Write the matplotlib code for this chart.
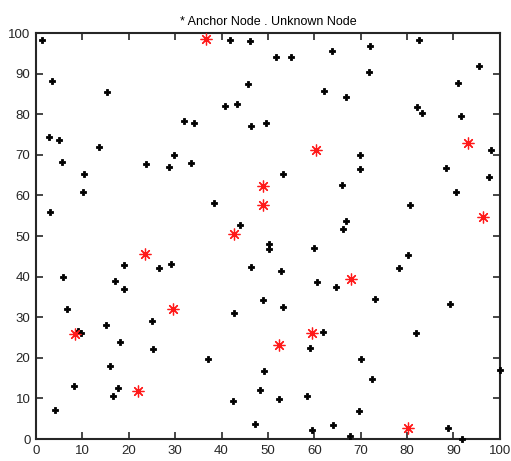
import matplotlib
matplotlib.use("Agg")
import matplotlib.pyplot as plt

# Anchor nodes (red asterisks)
anchor_x = [36.6, 60.4, 93.2, 49.0, 49.0, 96.4, 42.6, 23.4, 68.0, 8.4, 29.5, 59.6, 52.3, 22.0, 80.3]
anchor_y = [98.5, 71.1, 72.9, 62.2, 57.6, 54.7, 50.6, 45.6, 39.5, 25.9, 31.9, 26.1, 23.2, 11.8, 2.8]

# Unknown nodes (black dots)
unknown_x = [1.3, 3.5, 15.3, 41.9, 46.1, 51.8, 54.9, 63.9, 45.8, 62.1, 66.9, 40.7, 43.3,
             31.9, 34.0, 46.4, 49.5, 33.4, 2.8, 5.0, 13.5, 29.8, 5.6, 23.8,
             72.0, 82.6, 95.5, 71.8, 90.9, 82.1, 83.3, 91.6, 98.1, 69.9,
             10.4, 10.2, 3.1, 28.7, 18.9, 26.6, 29.0, 5.9, 17.1, 18.9,
             53.2, 38.4, 65.9, 66.9, 66.2, 44.0, 50.2, 50.2, 60.0, 46.4, 52.8, 60.5, 64.6, 49.0,
             69.9, 88.4, 97.6, 90.6, 80.7, 80.3, 78.2, 73.0,
             6.6, 15.1, 25.1, 9.0, 9.7, 18.1, 25.3, 16.0, 8.1, 17.6, 16.5, 4.0,
             53.3, 42.6, 61.8, 59.0, 37.1, 49.1, 48.4, 42.4, 52.3, 58.5, 47.2, 59.5, 64.1, 67.7,
             89.3, 81.9, 70.1, 72.4, 100.0, 69.7, 88.8, 91.8]
unknown_y = [98.3, 88.3, 85.4, 98.2, 98.0, 94.2, 94.2, 95.6, 87.4, 85.7, 84.2, 81.9, 82.5,
             78.3, 77.8, 77.0, 77.8, 68.1, 74.3, 73.7, 72.0, 70.0, 68.2, 67.7,
             96.8, 98.3, 91.8, 90.4, 87.8, 81.7, 80.2, 79.6, 71.1, 70.0,
             65.3, 60.9, 55.9, 67.0, 42.8, 42.1, 43.0, 39.8, 39.0, 36.9,
             65.3, 58.2, 62.6, 53.8, 51.8, 52.6, 48.0, 46.9, 47.1, 42.4, 41.5, 38.7, 37.4, 34.2,
             66.4, 66.7, 64.6, 60.9, 57.6, 45.4, 42.1, 34.4,
             31.9, 28.2, 29.0, 26.5, 26.1, 24.0, 22.2, 17.9, 13.1, 12.6, 10.5, 7.1,
             32.4, 31.0, 26.4, 22.5, 19.6, 16.7, 12.1, 9.4, 9.8, 10.5, 3.6, 2.1, 3.4, 0.7,
             33.3, 26.1, 19.6, 14.9, 17.0, 6.8, 2.7, 0.0]

xticks = list(range(0, 101, 10))
yticks = list(range(0, 101, 10))

plt.rcParams['font.family'] = ['Liberation Sans', 'DejaVu Sans']

fig = plt.figure(figsize=(5.11, 4.61), dpi=100)
ax = fig.add_axes([0.0705, 0.0477, 0.9075, 0.8807])

ax.plot(unknown_x, unknown_y, linestyle='none', marker='P', markersize=4.2,
        color='black', markeredgewidth=0.6, clip_on=False, zorder=3)
ax.plot(anchor_x, anchor_y, linestyle='none', marker=(8, 2, 0), markersize=8.5,
        color='#ff1a1a', markeredgewidth=0.9, clip_on=False, zorder=4)

ax.set_xlim(0, 100)
ax.set_ylim(0, 100)
ax.set_xticks(xticks)
ax.set_yticks(yticks)
ax.tick_params(direction='in', length=5, width=1.2, top=True, right=True,
               labelsize=9.5, colors='#262626', pad=4)
for s in ax.spines.values():
    s.set_linewidth(1.5)
    s.set_color('#262626')

ax.set_title('* Anchor Node . Unknown Node', fontsize=9, pad=6)

fig.savefig('out.png', dpi=100)
